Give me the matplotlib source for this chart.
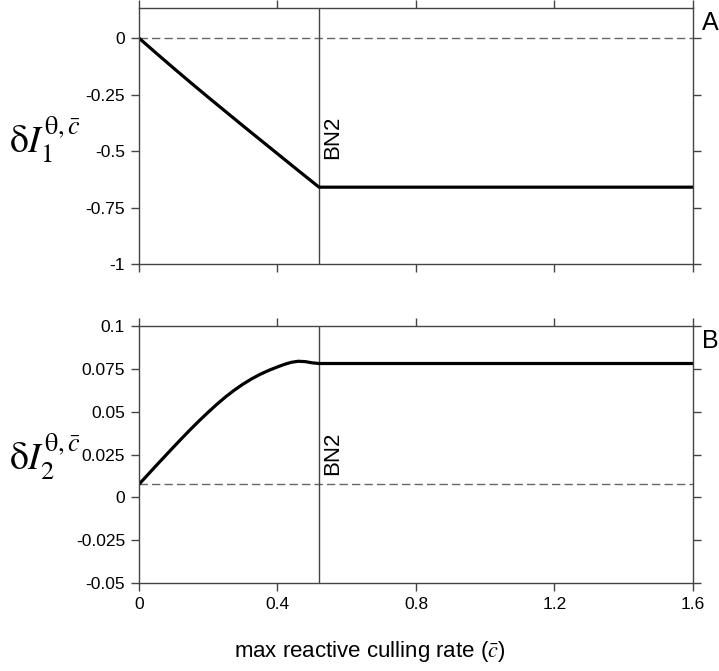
import matplotlib
matplotlib.use('Agg')
import matplotlib.pyplot as plt

plt.rcParams['font.family'] = ['Liberation Sans', 'DejaVu Sans']
plt.rcParams['mathtext.fontset'] = 'stix'

# panel A: delta I_1 vs max reactive culling rate
c_top = [0, 0.05, 0.1, 0.15, 0.2, 0.25, 0.3, 0.35, 0.4, 0.45, 0.52, 0.8, 1.2, 1.6]
dI1 = [0, -0.067, -0.133, -0.198, -0.262, -0.325, -0.388, -0.450, -0.512, -0.574, -0.66, -0.66, -0.66, -0.66]
ref1 = 0.0

# panel B: delta I_2 vs max reactive culling rate
c_bot = [0, 0.025, 0.05, 0.075, 0.1, 0.125, 0.15, 0.175, 0.2, 0.225, 0.25, 0.275, 0.3, 0.325, 0.35,
         0.375, 0.4, 0.42, 0.44, 0.46, 0.48, 0.5, 0.52, 0.8, 1.2, 1.6]
dI2 = [0.0076, 0.0131, 0.0186, 0.0240, 0.0294, 0.0347, 0.0399, 0.0449, 0.0497, 0.0543, 0.0586, 0.0625,
       0.0660, 0.0691, 0.0718, 0.0741, 0.0761, 0.0776, 0.0788, 0.0794, 0.0792, 0.0785, 0.0781,
       0.0781, 0.0781, 0.0781]
ref2 = 0.0076

bn2 = 0.52

xticks = [0, 0.4, 0.8, 1.2, 1.6]
yticks1 = [0, -0.25, -0.5, -0.75, -1]
ylabels1 = ['0', '-0.25', '-0.5', '-0.75', '-1']
yticks2 = [0.1, 0.075, 0.05, 0.025, 0, -0.025, -0.05]
ylabels2 = ['0.1', '0.075', '0.05', '0.025', '0', '-0.025', '-0.05']

fig = plt.figure(figsize=(7.19, 6.71), dpi=100)
ax1 = fig.add_axes([0.1933, 0.6066, 0.7705, 0.3814])
ax2 = fig.add_axes([0.1933, 0.1311, 0.7705, 0.3831])

spine_col = '#444444'


def style(ax, yt, yl, ylim, show_x):
    ax.set_xlim(0, 1.6)
    ax.set_ylim(*ylim)
    ax.set_xticks(xticks)
    ax.set_yticks(yt)
    ax.set_yticklabels(yl)
    if show_x:
        ax.set_xticklabels(['0', '0.4', '0.8', '1.2', '1.6'])
    else:
        ax.set_xticklabels([])
    ax.tick_params(direction='out', length=6, width=1, color=spine_col,
                   top=True, right=True, labelsize=12.5, pad=4)
    for s in ax.spines.values():
        s.set_color(spine_col)
        s.set_linewidth(1)


ax1.axhline(ref1, color='#666666', lw=1, ls=(0, (6, 3)))
ax1.axvline(bn2, color='#444444', lw=1)
ax1.plot(c_top, dI1, color='black', lw=2.3)
style(ax1, yticks1, ylabels1, (-1, 0.133), False)
ax1.text(bn2 + 0.04, -0.438, 'BN2', rotation=90, fontsize=16, ha='center', va='center')
ax1.text(1.016, 0.012, 'A', transform=ax1.get_yaxis_transform(), fontsize=18, ha='left', va='bottom')

ax2.axhline(ref2, color='#666666', lw=1, ls=(0, (6, 3)))
ax2.axvline(bn2, color='#444444', lw=1)
ax2.plot(c_bot, dI2, color='black', lw=2.3)
style(ax2, yticks2, ylabels2, (-0.05, 0.1), True)
ax2.text(bn2 + 0.04, 0.0256, 'BN2', rotation=90, fontsize=16, ha='center', va='center')
ax2.text(1.016, 0.0841, 'B', transform=ax2.get_yaxis_transform(), fontsize=18, ha='left', va='bottom')

fig.text(0.063, 1 - 140 / 671, r'$\mathrm{\delta}I_1^{\mathrm{\theta},\bar{c}}$', fontsize=27,
         ha='center', va='center')
fig.text(0.063, 1 - 457 / 671, r'$\mathrm{\delta}I_2^{\mathrm{\theta},\bar{c}}$', fontsize=27,
         ha='center', va='center')
fig.text(370 / 719, 1 - 651 / 671, r'max reactive culling rate ($\bar{c}$)', fontsize=16,
         ha='center', va='center')

fig.savefig('out.png', dpi=100)
